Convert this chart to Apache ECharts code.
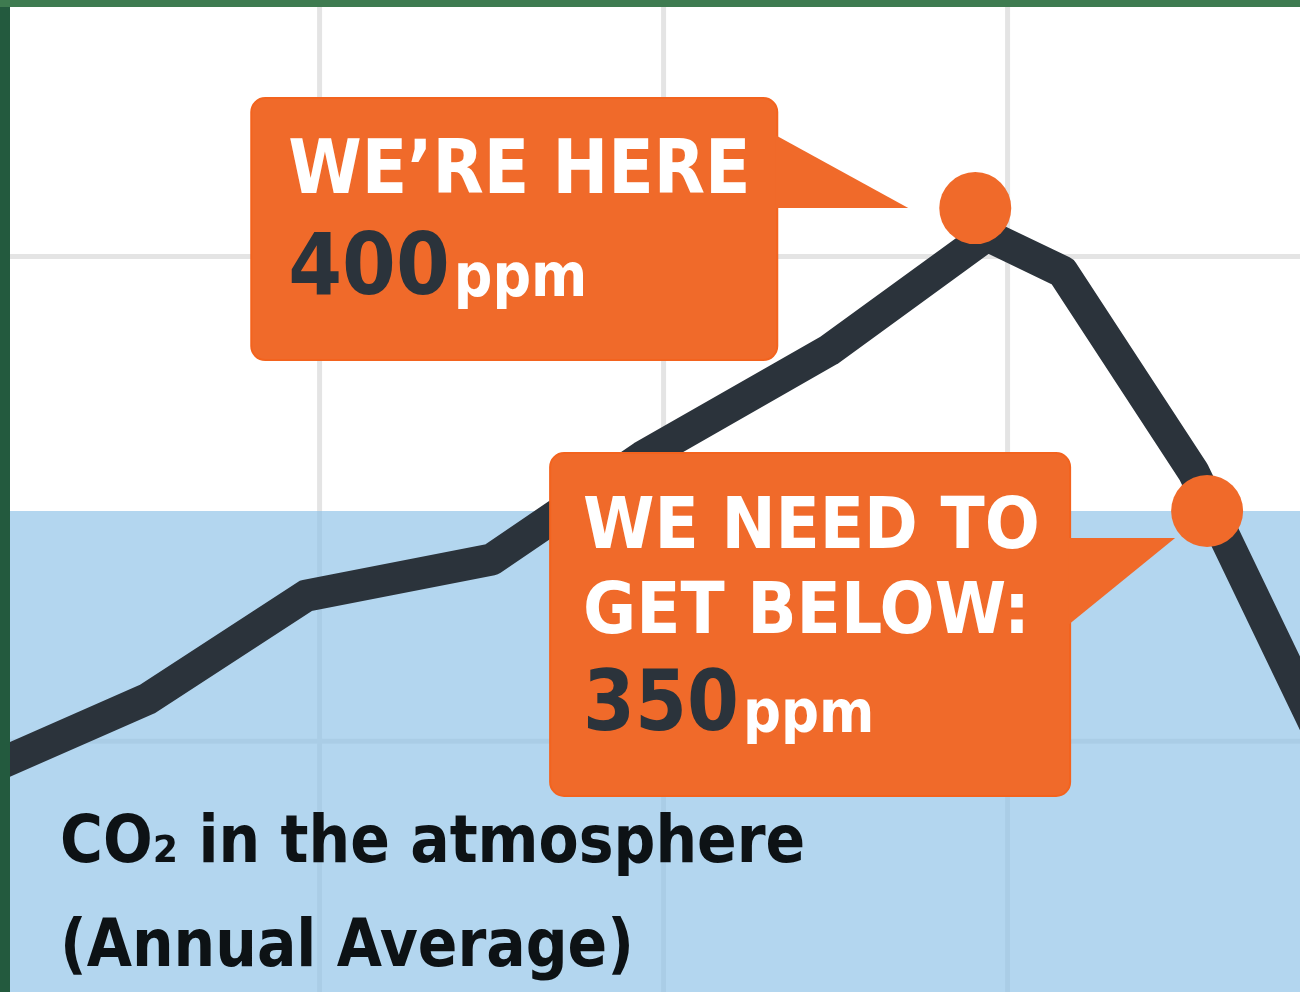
<!DOCTYPE html>
<html><head><meta charset="utf-8">
<script src="https://cdn.jsdelivr.net/npm/echarts@6/dist/echarts.min.js"></script>
<style>
html,body{margin:0;padding:0;width:1300px;height:992px;overflow:hidden;background:#235a3e;}
#topbar{position:absolute;left:0;top:0;width:1300px;height:7px;background:#3e7b50;}
#chart{position:absolute;left:10px;top:7px;width:1290px;height:985px;background:#fff;}
</style></head><body>
<div id="topbar"></div><div id="chart"></div>
<script>
// ---- data ----
const years = [1871, 1895, 1918, 1945, 1967, 1994, 2017, 2028, 2047, 2065];
const co2 = [307, 319, 336, 342, 359, 376.5, 395.5, 389.5, 356.5, 314];
const calloutYears = [2015.3, 2049];
const calloutPpm = [400, 350];
const calloutTitles = [["WE’RE HERE"], ["WE NEED TO", "GET BELOW:"]];
const calloutNumbers = ["400", "350"];
const calloutUnit = "ppm";
const targetPpm = 350;
const gridYears = [1920, 1970, 2020];
const gridPpm = [312, 392];
const titleLines = ["CO₂ in the atmosphere", "(Annual Average)"];

// ---- styling ----
const xMin = 1875, xMax = 2062.5, yMin = 270.6, yMax = 433.2;
const FONT = "'DejaVu Sans Condensed', 'DejaVu Sans', sans-serif";
const ORANGE = '#f06a2a';
const DARK = '#2b333b';
const K = 0.33;

const chart = echarts.init(document.getElementById('chart'), null, {renderer: 'canvas'});
chart.setOption({
  backgroundColor: '#ffffff',
  animation: false,
  title: {
    text: titleLines.join('\n'), left: 50, top: 786, padding: 0, z: 6,
    textStyle: {fontFamily: FONT, fontWeight: 'bold', fontSize: 65, lineHeight: 104, color: '#0d1215'}
  },
  grid: {left: 0, right: 0, top: 0, bottom: 0},
  xAxis: {type: 'value', min: xMin, max: xMax, show: false},
  yAxis: {type: 'value', min: yMin, max: yMax, show: false},
  series: [
    {type: 'line', data: [], silent: true, z: 2,
     markArea: {silent: true, itemStyle: {color: 'rgba(143,195,231,0.68)'},
       data: [[{yAxis: yMin}, {yAxis: targetPpm}]]}},
    {type: 'line', data: years.map((y, i) => [y, co2[i]]), z: 3, symbol: 'none', silent: true,
     lineStyle: {color: DARK, width: 32, join: 'round', cap: 'round'}},
    {type: 'scatter', data: calloutYears.map((y, i) => [y, calloutPpm[i]]), z: 4, silent: true,
     symbolSize: 72, itemStyle: {color: ORANGE, opacity: 1}}
  ]
});

function measure(text, size) {
  const c = document.createElement('canvas').getContext('2d');
  c.font = `bold ${size}px ${FONT}`;
  return c.measureText(text).width;
}

const layout = [
  {box: [-724, -110, 526, 262], tail: [[-200, -73], [-67, 0], [-200, 0]], textX: -687,
   lineBase: [-10], lineSize: 74, numBase: 92, numSize: 86, unitSize: 60},
  {box: [-657, -58, 520, 343], tail: [[-139, 27], [-32, 27], [-139, 114]], textX: -624,
   lineBase: [42, 127], lineSize: 72, numBase: 225, numSize: 83, unitSize: 59}
];

const graphics = [];
// background grid lines, placed through the chart's own scales, drawn below the series
const W = chart.getWidth(), H = chart.getHeight();
gridYears.forEach(v => {
  const x = chart.convertToPixel({gridIndex: 0}, [v, yMin])[0];
  graphics.push({type: 'line', z: 0, silent: true, shape: {x1: x, y1: 0, x2: x, y2: H},
    style: {stroke: '#e4e4e4', lineWidth: 5}});
});
gridPpm.forEach(v => {
  const y = chart.convertToPixel({gridIndex: 0}, [xMin, v])[1];
  graphics.push({type: 'line', z: 0, silent: true, shape: {x1: 0, y1: y, x2: W, y2: y},
    style: {stroke: '#e4e4e4', lineWidth: 5}});
});

calloutYears.forEach((yr, i) => {
  const p = chart.convertToPixel({gridIndex: 0}, [yr, calloutPpm[i]]);
  const L = layout[i];
  graphics.push({type: 'rect', z: 10, silent: true,
    shape: {x: p[0] + L.box[0], y: p[1] + L.box[1], width: L.box[2], height: L.box[3], r: 14},
    style: {fill: ORANGE, stroke: '#f3631e', lineWidth: 2}});
  graphics.push({type: 'polygon', z: 10, silent: true,
    shape: {points: L.tail.map(t => [p[0] + t[0], p[1] + t[1]])},
    style: {fill: ORANGE}});
  calloutTitles[i].forEach((line, j) => {
    graphics.push({type: 'text', z: 11, silent: true,
      x: p[0] + L.textX, y: p[1] + L.lineBase[j] - K * L.lineSize,
      style: {text: line, fill: '#ffffff', fontSize: L.lineSize, fontWeight: 'bold', fontFamily: FONT,
        align: 'left', verticalAlign: 'middle', textAlign: 'left', textVerticalAlign: 'middle'}});
  });
  const nw = measure(calloutNumbers[i], L.numSize);
  graphics.push({type: 'text', z: 11, silent: true,
    x: p[0] + L.textX, y: p[1] + L.numBase - K * L.numSize,
    style: {text: calloutNumbers[i], fill: DARK, fontSize: L.numSize, fontWeight: 'bold', fontFamily: FONT,
      align: 'left', verticalAlign: 'middle', textAlign: 'left', textVerticalAlign: 'middle'}});
  graphics.push({type: 'text', z: 11, silent: true,
    x: p[0] + L.textX + nw + 4, y: p[1] + L.numBase - K * L.unitSize,
    style: {text: calloutUnit, fill: '#ffffff', fontSize: L.unitSize, fontWeight: 'bold', fontFamily: FONT,
      align: 'left', verticalAlign: 'middle', textAlign: 'left', textVerticalAlign: 'middle'}});
});
chart.setOption({graphic: graphics});
</script>
</body></html>
